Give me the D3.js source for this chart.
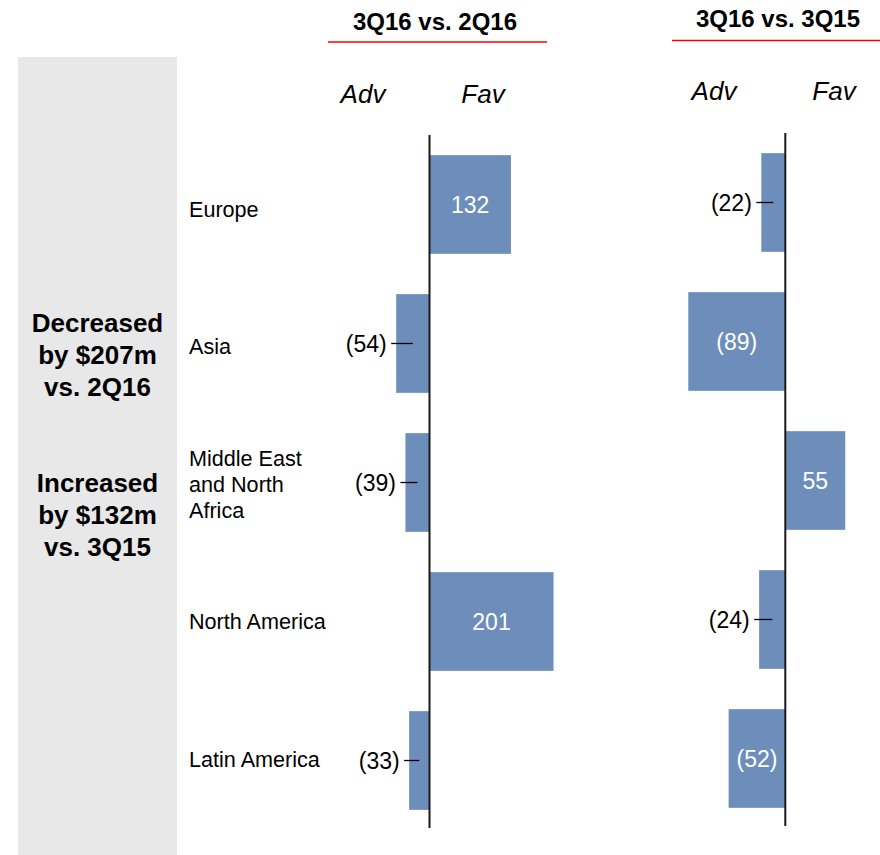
<!DOCTYPE html>
<html>
<head>
<meta charset="utf-8">
<script src="https://cdn.jsdelivr.net/npm/d3@7"></script>
<style>
  body { margin: 0; background: #fff; }
  svg { font-family: "Liberation Sans", Arial, sans-serif; }
</style>
</head>
<body>
<svg width="880" height="855"></svg>
<script>
// data
const regions = ["Europe", "Asia", "Middle East and North Africa", "North America", "Latin America"];
const regionLines = [["Europe"], ["Asia"], ["Middle East", "and North", "Africa"], ["North America"], ["Latin America"]];
const vs2Q16 = [132, -54, -39, 201, -33];
const vs3Q15 = [-22, -89, 55, -24, -52];
const summaryTop = ["Decreased", "by $207m", "vs. 2Q16"];
const summaryBottom = ["Increased", "by $132m", "vs. 3Q15"];

const barColor = "#6d8ebb";

var svg = d3.select('svg');

// grey summary panel
svg.append('rect')
    .attr('x', 18).attr('y', 57)
    .attr('width', 159).attr('height', 800)
    .attr('fill', '#e8e8e8');

function drawLines(lines, firstBaseline) {
    svg.append('text')
        .attr('text-anchor', 'middle')
        .attr('font-size', 26)
        .attr('font-weight', 'bold')
        .attr('fill', '#000')
        .selectAll('tspan')
        .data(lines)
        .enter()
        .append('tspan')
        .attr('x', 97.5)
        .attr('y', (d, i) => firstBaseline + i * 32)
        .text(d => d);
}
drawLines(summaryTop, 332);
drawLines(summaryBottom, 492);

// region labels
var labelY = d3.scalePoint().domain(regions).range([209, 759]);
regions.forEach(function (r, i) {
    var lines = regionLines[i];
    var t = svg.append('text')
        .attr('font-size', 21.6)
        .attr('fill', '#000');
    t.selectAll('tspan')
        .data(lines)
        .enter()
        .append('tspan')
        .attr('x', 189)
        .attr('y', (d, j) => labelY(r) + 7.5 + (j - (lines.length - 1) / 2) * 26)
        .text(d => d);
});

// two comparison panels
var panels = [
    { title: "3Q16 vs. 2Q16", values: vs2Q16, zeroX: 429.5, k: 0.617, top: 135,
      titleX: 435, titleY: 30, rule: [328, 547], ruleY: 42,
      advX: 363, favX: 483, advY: 103 },
    { title: "3Q16 vs. 3Q15", values: vs3Q15, zeroX: 785.3, k: 1.09, top: 133,
      titleX: 778, titleY: 27, rule: [672, 880], ruleY: 40.5,
      advX: 714, favX: 834, advY: 100 }
];

function fmt(v) {
    return v < 0 ? "(" + Math.abs(v) + ")" : String(v);
}

panels.forEach(function (p) {
    var g = svg.append('g');

    g.append('text')
        .attr('x', p.titleX).attr('y', p.titleY)
        .attr('text-anchor', 'middle')
        .attr('font-size', 24)
        .attr('font-weight', 'bold')
        .text(p.title);

    g.append('line')
        .attr('x1', p.rule[0]).attr('x2', p.rule[1])
        .attr('y1', p.ruleY).attr('y2', p.ruleY)
        .attr('stroke', '#ff0000')
        .attr('stroke-width', 1.5);

    g.append('text')
        .attr('x', p.advX).attr('y', p.advY)
        .attr('text-anchor', 'middle')
        .attr('font-size', 26)
        .attr('font-style', 'italic')
        .text('Adv');
    g.append('text')
        .attr('x', p.favX).attr('y', p.advY)
        .attr('text-anchor', 'middle')
        .attr('font-size', 26)
        .attr('font-style', 'italic')
        .text('Fav');

    var x = d3.scaleLinear()
        .domain([-100, 250])
        .range([p.zeroX - 100 * p.k, p.zeroX + 250 * p.k]);

    var y = d3.scaleBand()
        .domain(regions)
        .range([p.top, p.top + 695])
        .paddingInner(0.29)
        .paddingOuter(0.145);

    var data = regions.map((r, i) => ({ region: r, value: p.values[i] }));

    g.selectAll('rect.bar')
        .data(data)
        .enter()
        .append('rect')
        .attr('class', 'bar')
        .attr('x', d => Math.min(x(0), x(d.value)))
        .attr('y', d => y(d.region))
        .attr('width', d => Math.abs(x(d.value) - x(0)))
        .attr('height', y.bandwidth())
        .attr('fill', barColor);

    data.forEach(function (d) {
        var x0 = Math.min(x(0), x(d.value)), x1 = Math.max(x(0), x(d.value));
        var cy = y(d.region) + y.bandwidth() / 2;
        var cx = (x0 + x1) / 2;
        if (x1 - x0 > 45) {
            g.append('text')
                .attr('x', cx).attr('y', cy + 8.2)
                .attr('text-anchor', 'middle')
                .attr('font-size', 23)
                .attr('fill', '#fff')
                .text(fmt(d.value));
        } else if (d.value < 0) {
            g.append('line')
                .attr('x1', x0 - 5).attr('x2', cx)
                .attr('y1', cy).attr('y2', cy)
                .attr('stroke', '#000').attr('stroke-width', 1.3);
            g.append('text')
                .attr('x', x0 - 9.5).attr('y', cy + 8.2)
                .attr('text-anchor', 'end')
                .attr('font-size', 23)
                .attr('fill', '#000')
                .text(fmt(d.value));
        } else {
            g.append('line')
                .attr('x1', cx).attr('x2', x1 + 5)
                .attr('y1', cy).attr('y2', cy)
                .attr('stroke', '#000').attr('stroke-width', 1.3);
            g.append('text')
                .attr('x', x1 + 9.5).attr('y', cy + 8.2)
                .attr('text-anchor', 'start')
                .attr('font-size', 23)
                .attr('fill', '#000')
                .text(fmt(d.value));
        }
    });

    // zero axis
    g.append('line')
        .attr('x1', x(0)).attr('x2', x(0))
        .attr('y1', p.top).attr('y2', p.top + 693)
        .attr('stroke', '#1a1a1a')
        .attr('stroke-width', 2);
});
</script>
</body>
</html>
